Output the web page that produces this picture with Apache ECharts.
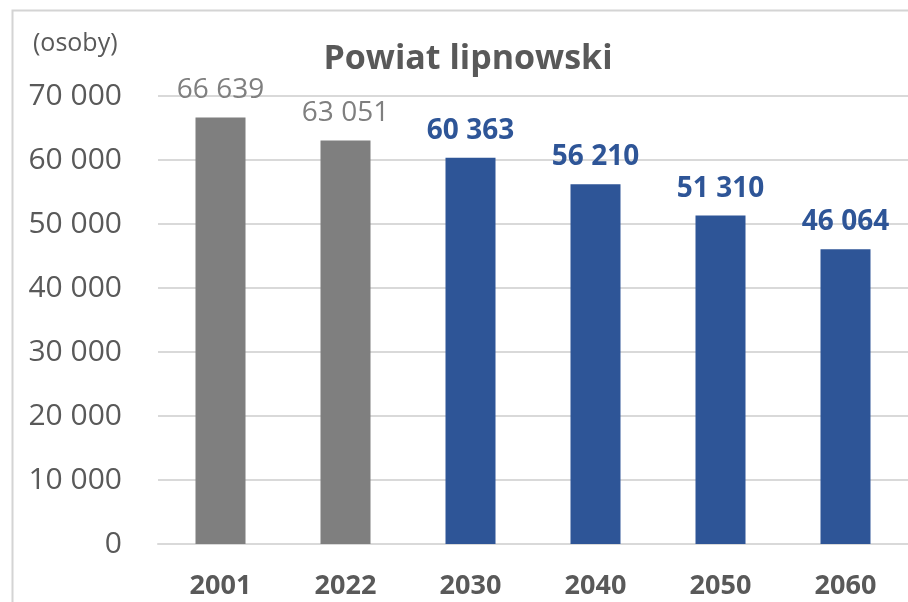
<!DOCTYPE html>
<html><head><meta charset="utf-8">
<script src="https://cdn.jsdelivr.net/npm/echarts@6/dist/echarts.min.js"></script>
<style>html,body{margin:0;padding:0;background:#fff}#c{width:908px;height:602px}</style>
</head><body><div id="c"></div>
<script>
const categories = ['2001', '2022', '2030', '2040', '2050', '2060'];
const values = [66639, 63051, 60363, 56210, 51310, 46064];
const yTicks = [0, 10000, 20000, 30000, 40000, 50000, 60000, 70000];
const isHistoric = [true, true, false, false, false, false];

const FONT = 'Open Sans';
const GRAY = '#7f7f7f';
const BLUE = '#2e5597';
const fmt = v => String(v).replace(/\B(?=(\d{3})+(?!\d))/g, ' ');

const chart = echarts.init(document.getElementById('c'), null, {renderer: 'canvas'});
chart.setOption({
  animation: false,
  backgroundColor: '#fff',
  graphic: [{
    type: 'rect', left: 10, top: 8, shape: {x: 0, y: 0, width: 1000, height: 700},
    style: {fill: 'none', stroke: '#d4d4d4', lineWidth: 2}, z: 0
  }],
  title: [{
    text: 'Powiat lipnowski', left: 463, top: 37, textAlign: 'center',
    textStyle: {fontFamily: FONT, fontSize: 34, fontWeight: 'bold', color: '#595959'}
  }, {
    text: '(osoby)', left: 28, top: 26,
    textStyle: {fontFamily: FONT, fontSize: 25, fontWeight: 'normal', color: '#595959'}
  }],
  grid: {left: 158, top: 96, width: 752, height: 448, containLabel: false},
  xAxis: {
    type: 'category', data: categories,
    axisLine: {show: true, lineStyle: {color: '#d9d9d9', width: 2}},
    axisTick: {show: false},
    axisLabel: {fontFamily: FONT, fontSize: 27, fontWeight: 'bold', color: '#595959', margin: 29}
  },
  yAxis: {
    type: 'value', min: 0, max: 70000, interval: 10000,
    axisLine: {show: false}, axisTick: {show: false},
    splitLine: {lineStyle: {color: '#d9d9d9', width: 2}},
    axisLabel: {fontFamily: FONT, fontSize: 30, color: '#595959', margin: 36,
      formatter: v => yTicks.includes(v) ? fmt(v) : ''}
  },
  series: [{
    type: 'bar', barWidth: '40%',
    data: values.map((v, i) => ({
      value: v,
      itemStyle: {color: isHistoric[i] ? GRAY : BLUE},
      label: {color: isHistoric[i] ? GRAY : BLUE, fontWeight: isHistoric[i] ? 'normal' : 'bold'}
    })),
    label: {show: true, position: 'top', distance: 13, fontFamily: FONT, fontSize: 28,
      formatter: p => fmt(p.value)}
  }]
});
</script></body></html>
